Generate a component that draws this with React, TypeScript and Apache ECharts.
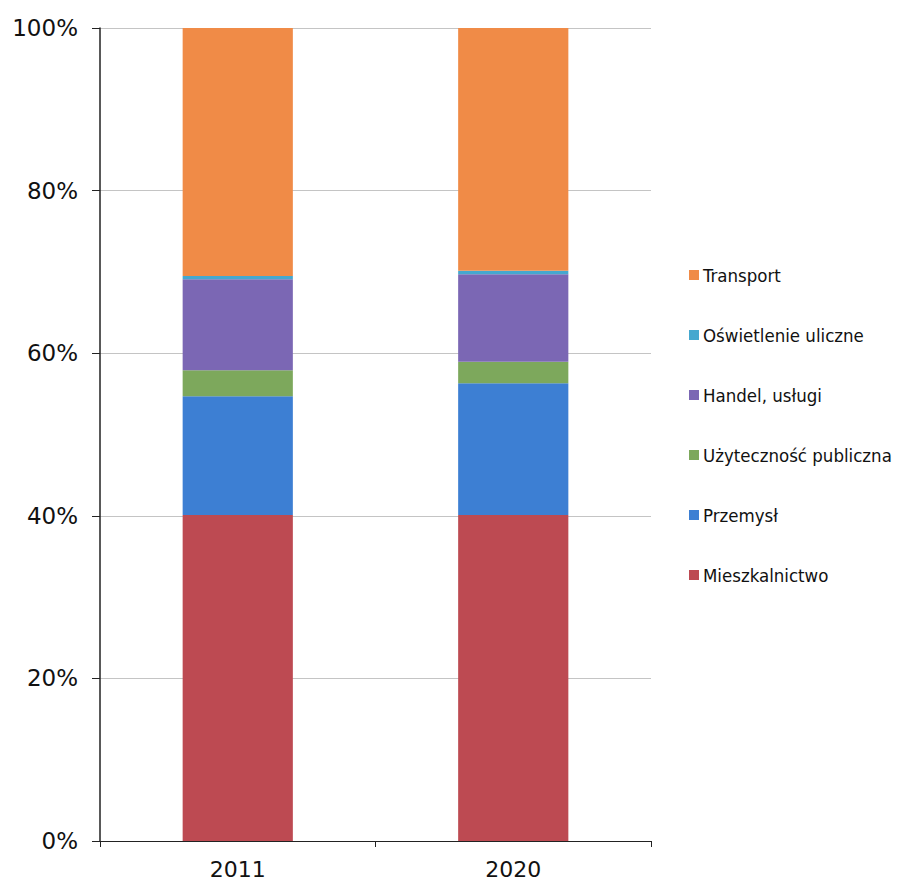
import React, { useEffect, useRef } from "react";
import * as echarts from "echarts";

const categories = ["2011", "2020"];
const seriesNames = [
  "Mieszkalnictwo",
  "Przemysł",
  "Użyteczność publiczna",
  "Handel, usługi",
  "Oświetlenie uliczne",
  "Transport",
];
const mieszkalnictwo = [40.1, 40.1];
const przemysl = [14.6, 16.2];
const uzytecznosc = [3.2, 2.65];
const handel = [11.2, 10.75];
const oswietlenie = [0.4, 0.45];
const transport = [30.5, 29.85];
const colors = ["#BD4A52", "#3D7FD3", "#7DA85C", "#7B67B4", "#45A8CF", "#F08B47"];
const yTicks = [0, 20, 40, 60, 80, 100];

export default function App() {
  const ref = useRef<HTMLDivElement>(null);
  useEffect(() => {
    if (!ref.current) return;
    const chart = echarts.init(ref.current, undefined, { renderer: "svg" });
    const values = [mieszkalnictwo, przemysl, uzytecznosc, handel, oswietlenie, transport];
    chart.setOption({
      animation: false,
      backgroundColor: "#ffffff",
      textStyle: { fontFamily: "DejaVu Sans" },
      grid: { left: 92, right: 254, top: 20, bottom: 44, containLabel: false },
      legend: {
        orient: "vertical",
        left: 676,
        top: 252,
        itemWidth: 10,
        itemHeight: 10,
        itemGap: 40,
        icon: "rect",
        data: [...seriesNames].reverse(),
        textStyle: {
          fontSize: 18.5,
          lineHeight: 20,
          color: "#111",
          fontFamily: "DejaVu Sans Condensed, DejaVu Sans",
          padding: [0, 0, 0, -1],
        },
      },
      xAxis: {
        type: "category",
        data: categories,
        axisLine: { lineStyle: { color: "#222", width: 1 } },
        axisTick: { show: true, alignWithLabel: false, length: 6, inside: false, lineStyle: { color: "#222" } },
        axisLabel: { fontSize: 22, color: "#111", margin: 17 },
      },
      yAxis: {
        type: "value",
        min: 0,
        max: 100,
        interval: 20,
        axisLine: { show: true, lineStyle: { color: "#222", width: 1.5 } },
        axisTick: { show: true, length: 8, lineStyle: { color: "#222" } },
        axisLabel: {
          fontSize: 23,
          color: "#111",
          margin: 22,
          formatter: (v: number) => (yTicks.includes(v) ? v + "%" : ""),
        },
        splitLine: { show: true, lineStyle: { color: "#c4c4c4", width: 1 } },
      },
      series: seriesNames.map((name, i) => ({
        name,
        type: "bar",
        stack: "total",
        barWidth: "40%",
        data: values[i],
        itemStyle: { color: colors[i] },
      })),
    });
    return () => chart.dispose();
  }, []);
  return <div ref={ref} style={{ width: 897, height: 877 }} />;
}
